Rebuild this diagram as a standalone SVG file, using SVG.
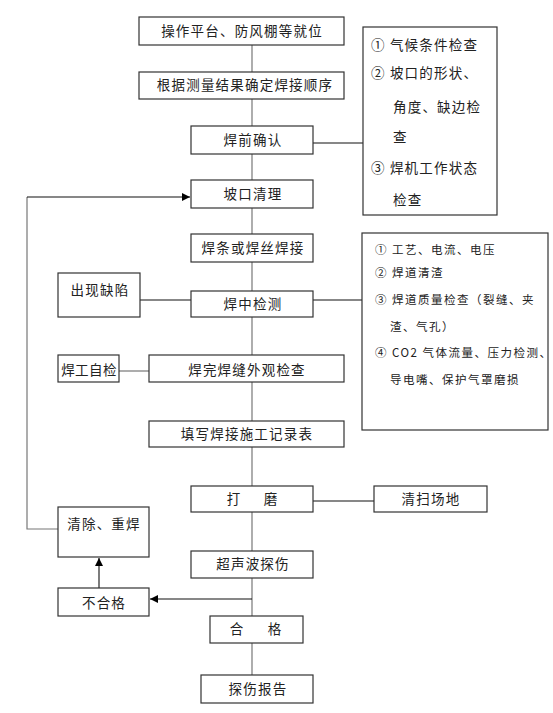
<svg xmlns="http://www.w3.org/2000/svg" width="553" height="713" viewBox="0 0 553 713">
<style>
.b{fill:#fff;stroke:#333;stroke-width:1.2}
.t{font-family:"Noto Sans CJK SC","Noto Sans",sans-serif;font-size:13.5px;fill:#222;text-anchor:middle;letter-spacing:1.2px}
.l{font-family:"Noto Sans CJK SC","Noto Sans",sans-serif;font-size:13.5px;fill:#222;letter-spacing:1.2px}
.s{font-family:"Noto Sans CJK SC","Noto Sans",sans-serif;font-size:11.5px;fill:#222;letter-spacing:1.5px}
.c{fill:none;stroke:#111;stroke-width:1.1}
.g{fill:none;stroke:#777;stroke-width:1.2}
</style>
<defs>
<marker id="ah" viewBox="0 0 10 10" refX="10" refY="5" markerWidth="8" markerHeight="8" markerUnits="userSpaceOnUse" orient="auto">
<path d="M0,0L10,5L0,10z" fill="#000"/>
</marker>
</defs>
<g id="connectors">
<line class="g" x1="252" y1="45" x2="252" y2="675"/>
<line class="c" x1="313" y1="143" x2="363" y2="143"/>
<line class="c" x1="140" y1="300" x2="191" y2="300"/>
<line class="c" x1="313" y1="300" x2="362" y2="300"/>
<line class="g" x1="119" y1="371" x2="149" y2="371"/>
<line class="c" x1="313" y1="501" x2="374" y2="501"/>
<polyline class="g" points="58,529 27,529 27,197"/>
<line class="c" x1="27" y1="197" x2="190" y2="197" marker-end="url(#ah)"/>
<line class="c" x1="252" y1="599" x2="150" y2="599" marker-end="url(#ah)"/>
<line class="c" x1="99" y1="588" x2="99" y2="558" marker-end="url(#ah)"/>
</g>
<g id="n1"><rect class="b" x="139" y="17" width="205" height="28"/><text class="t" x="242" y="36">操作平台、防风棚等就位</text></g>
<g id="n2"><rect class="b" x="139" y="72" width="205" height="27"/><text class="t" x="245" y="90">根据测量结果确定焊接顺序</text></g>
<g id="n3"><rect class="b" x="191" y="126" width="122" height="28"/><text class="t" x="253" y="145">焊前确认</text></g>
<g id="n4"><rect class="b" x="191" y="180" width="122" height="28"/><text class="t" x="253" y="199">坡口清理</text></g>
<g id="n5"><rect class="b" x="191" y="234" width="122" height="28"/><text class="t" x="253" y="253">焊条或焊丝焊接</text></g>
<g id="n6"><rect class="b" x="191" y="291" width="122" height="26"/><text class="t" x="253" y="309">焊中检测</text></g>
<g id="n7"><rect class="b" x="58" y="273" width="82" height="44"/><text class="t" x="100" y="295">出现缺陷</text></g>
<g id="n8"><rect class="b" x="149" y="355" width="195" height="27"/><text class="t" x="247" y="375">焊完焊缝外观检查</text></g>
<g id="n9"><rect class="b" x="58" y="355" width="61" height="27"/><text class="t" x="89" y="375" style="letter-spacing:0.4px">焊工自检</text></g>
<g id="n10"><rect class="b" x="149" y="421" width="195" height="26"/><text class="t" x="247" y="439">填写焊接施工记录表</text></g>
<g id="n11"><rect class="b" x="191" y="486" width="122" height="26"/><text class="t" y="504"><tspan x="234">打</tspan><tspan x="271">磨</tspan></text></g>
<g id="n12"><rect class="b" x="374" y="486" width="113" height="26"/><text class="t" x="431" y="504">清扫场地</text></g>
<g id="n13"><rect class="b" x="58" y="507" width="91" height="50"/><text class="t" x="104" y="529">清除、重焊</text></g>
<g id="n14"><rect class="b" x="191" y="551" width="122" height="27"/><text class="t" x="253" y="569">超声波探伤</text></g>
<g id="n15"><rect class="b" x="58" y="588" width="91" height="28"/><text class="t" x="104" y="608">不合格</text></g>
<g id="n16"><rect class="b" x="210" y="616" width="93" height="27"/><text class="t" y="634"><tspan x="237">合</tspan><tspan x="275">格</tspan></text></g>
<g id="n17"><rect class="b" x="201" y="675" width="112" height="28"/><text class="t" x="258" y="694">探伤报告</text></g>
<g id="n18"><rect class="b" x="363" y="27" width="134" height="188"/>
<text class="l" x="371" y="50">① 气候条件检查</text>
<text class="l" x="371" y="78">② 坡口的形状、</text>
<text class="l" x="393" y="112">角度、缺边检</text>
<text class="l" x="393" y="142">查</text>
<text class="l" x="371" y="173">③ 焊机工作状态</text>
<text class="l" x="393" y="205">检查</text>
</g>
<g id="n19"><rect class="b" x="362" y="233" width="186" height="197"/>
<text class="s" x="375" y="254">① 工艺、电流、电压</text>
<text class="s" x="375" y="277">② 焊道清渣</text>
<text class="s" x="375" y="304">③ 焊道质量检查（裂缝、夹</text>
<text class="s" x="390" y="331">渣、气孔）</text>
<text class="s" x="375" y="357">④ CO2 气体流量、压力检测、</text>
<text class="s" x="390" y="384">导电嘴、保护气罩磨损</text>
</g>
</svg>
